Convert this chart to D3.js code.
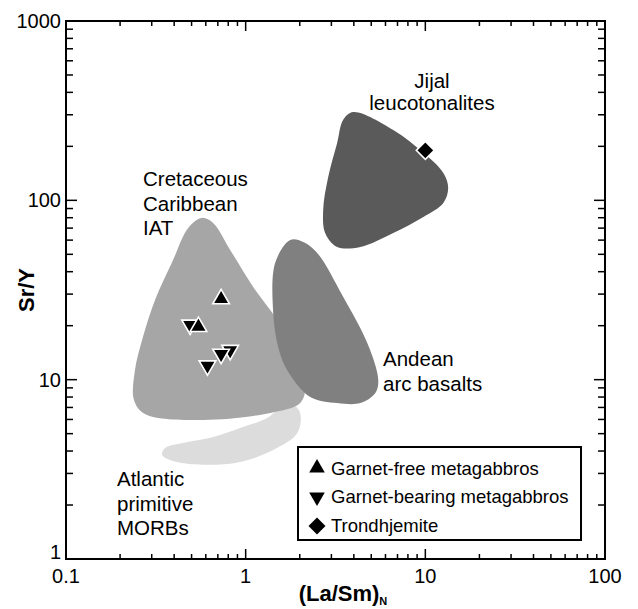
<!DOCTYPE html>
<html><head><meta charset="utf-8">
<script src="https://cdn.jsdelivr.net/npm/d3@7/dist/d3.min.js"></script>
<style>
body{margin:0;background:#fff}
svg{display:block}
text{font-family:Arial,"Liberation Sans",Helvetica,sans-serif;fill:#000}
</style>
</head><body>
<svg id="chart" width="638" height="609"></svg>
<script>
// ---- data ----
const xTickLabels = ["0.1", "1", "10", "100"];
const yTickLabels = ["1", "10", "100", "1000"];
const xDomain = [0.1, 100];
const yDomain = [1, 1000];

// field outlines, [(La/Sm)N, Sr/Y]
const atlanticMORB = [[1.84,7.22],[2.01,6.52],[1.94,5.04],[1.42,4.05],[0.932,3.47],[0.61,3.35],[0.415,3.47],[0.343,3.8],[0.356,4.16],[0.449,4.44],[0.659,4.79],[0.932,5.38],[1.318,6.11],[1.557,6.95]];
const caribbeanIAT = [[0.57,79.8],[0.659,74.8],[0.82,52.9],[1.101,32.9],[1.498,21.5],[1.887,13.7],[2.145,9.11],[2.012,7.41],[1.369,6.52],[0.58,5.96],[0.275,6.44],[0.239,7.71],[0.242,11.3],[0.265,16.6],[0.313,27.8],[0.39,45.3],[0.479,70.2]];
const andeanArc = [[1.771,60.1],[2.091,58.6],[2.502,50.9],[3.493,28.9],[4.752,16.0],[5.47,9.96],[5.27,8.43],[4.35,7.41],[3.234,7.41],[2.287,8.01],[1.703,11.3],[1.517,15.2],[1.423,23.6],[1.46,44.8]];
const jijal = [[3.97,311],[6.63,247],[9.75,184],[12.6,142],[13.4,117],[12.6,96.7],[9.75,80.8],[6.63,65.8],[4.35,55.0],[3.23,55.0],[2.77,65.8],[2.70,88.4],[2.88,135],[3.23,209],[3.49,281]];

// samples
const garnetBearing = [[0.491,20.2],[0.82,14.6],[0.73,13.9],[0.613,11.97]];
const garnetFree = [[0.73,28.2],[0.546,19.75]];
const trondhjemite = [[10,190]];

const legendLabels = ["Garnet-free metagabbros","Garnet-bearing metagabbros","Trondhjemite"];
const jijalLabel = ["Jijal","leucotonalites"];
const caribbeanLabel = ["Cretaceous","Caribbean","IAT"];
const andeanLabel = ["Andean","arc basalts"];
const morbLabel = ["Atlantic","primitive","MORBs"];

// ---- drawing ----
const svg = d3.select("#chart");
const L = 66, R = 605, T = 21, B = 559;
const x = d3.scaleLog().domain(xDomain).range([L, R]);
const y = d3.scaleLog().domain(yDomain).range([B, T]);

const line = d3.line().x(d => x(d[0])).y(d => y(d[1])).curve(d3.curveCatmullRomClosed.alpha(0.5));

const fields = [
  {pts: atlanticMORB, fill: "#dcdcdc"},
  {pts: caribbeanIAT, fill: "#a6a6a6"},
  {pts: andeanArc, fill: "#808080"},
  {pts: jijal, fill: "#5a5a5a"}
];
svg.append("g").selectAll("path").data(fields).join("path")
  .attr("d", d => line(d.pts)).attr("fill", d => d.fill).attr("stroke", "none");

// field labels
function block(lines, px, py, dy, anchor){
  const t = svg.append("text").attr("font-size", 20.5).attr("text-anchor", anchor);
  lines.forEach((s,i) => t.append("tspan").attr("x", px).attr("y", py + i*dy).text(s));
}
block(jijalLabel, 432, 88, 22, "middle");
block(caribbeanLabel, 143, 186, 24.5, "start");
block(andeanLabel, 383, 366, 24.5, "start");
block(morbLabel, 117, 486, 24.5, "start");

// markers
const triUp = d3.symbol().type(d3.symbolTriangle).size(120);
const diamond = "M0,-9L9,0L0,9L-9,0Z";
const gM = svg.append("g");
gM.selectAll(".gb").data(garnetBearing).join("path")
  .attr("d", triUp()).attr("transform", d => `translate(${x(d[0])},${y(d[1])}) rotate(180)`)
  .attr("fill", "#000").attr("stroke", "#fff").attr("stroke-width", 1.6);
gM.selectAll(".gf").data(garnetFree).join("path")
  .attr("d", triUp()).attr("transform", d => `translate(${x(d[0])},${y(d[1])})`)
  .attr("fill", "#000").attr("stroke", "#fff").attr("stroke-width", 1.6);
gM.selectAll(".tr").data(trondhjemite).join("path")
  .attr("d", diamond).attr("transform", d => `translate(${x(d[0])},${y(d[1])})`)
  .attr("fill", "#000").attr("stroke", "#fff").attr("stroke-width", 1.6);

// legend
const lg = svg.append("g");
lg.append("rect").attr("x", 298).attr("y", 447).attr("width", 283).attr("height", 93)
  .attr("fill", "#fff").attr("stroke", "#000").attr("stroke-width", 2);
const legSym = [
  {d: d3.symbol().type(d3.symbolTriangle).size(105)(), rot: 0, cy: 468},
  {d: d3.symbol().type(d3.symbolTriangle).size(105)(), rot: 180, cy: 497},
  {d: "M0,-8.5L8.5,0L0,8.5L-8.5,0Z", rot: 0, cy: 526}
];
lg.selectAll("path").data(legSym).join("path")
  .attr("d", d => d.d).attr("transform", d => `translate(317,${d.cy}) rotate(${d.rot})`).attr("fill", "#000");
lg.selectAll("text").data(legendLabels).join("text")
  .attr("x", 331).attr("y", (d,i) => 474.5 + i*28.5).attr("font-size", 18.5).text(d => d);

// frame and ticks
svg.append("rect").attr("x", L).attr("y", T).attr("width", R-L).attr("height", B-T)
  .attr("fill", "none").attr("stroke", "#000").attr("stroke-width", 2);
const isMajor = v => Math.abs(Math.log10(v) - Math.round(Math.log10(v))) < 1e-6;
const xt = x.ticks(), yt = y.ticks();
const tg = svg.append("g").attr("stroke", "#000").attr("stroke-width", 1.5);
xt.forEach(v => {
  const len = isMajor(v) ? 10 : 5, px = x(v);
  tg.append("line").attr("x1", px).attr("x2", px).attr("y1", B).attr("y2", B-len);
  tg.append("line").attr("x1", px).attr("x2", px).attr("y1", T).attr("y2", T+len);
});
yt.forEach(v => {
  const len = isMajor(v) ? 11 : 7, py = y(v);
  tg.append("line").attr("y1", py).attr("y2", py).attr("x1", L).attr("x2", L+len);
  tg.append("line").attr("y1", py).attr("y2", py).attr("x1", R).attr("x2", R-len);
});
const xMaj = xt.filter(isMajor), yMaj = yt.filter(isMajor);
svg.append("g").selectAll("text").data(xMaj).join("text")
  .attr("x", d => x(d)).attr("y", 583).attr("text-anchor", "middle").attr("font-size", 20)
  .text((d,i) => xTickLabels[i]);
svg.append("g").selectAll("text").data(yMaj).join("text")
  .attr("x", 61).attr("y", (d,i) => i === 0 ? y(d) : y(d) + 7).attr("text-anchor", "end").attr("font-size", 20)
  .text((d,i) => yTickLabels[i]);

// axis titles
const xt1 = svg.append("text").attr("x", 343).attr("y", 601).attr("text-anchor", "middle")
  .attr("font-size", 22).attr("font-weight", "bold");
xt1.append("tspan").text("(La/Sm)");
xt1.append("tspan").attr("font-size", 11).attr("dy", 4).text("N");
svg.append("text").attr("transform", "translate(34,290) rotate(-90)").attr("text-anchor", "middle")
  .attr("font-size", 22).attr("font-weight", "bold").text("Sr/Y");
</script>
</body></html>
